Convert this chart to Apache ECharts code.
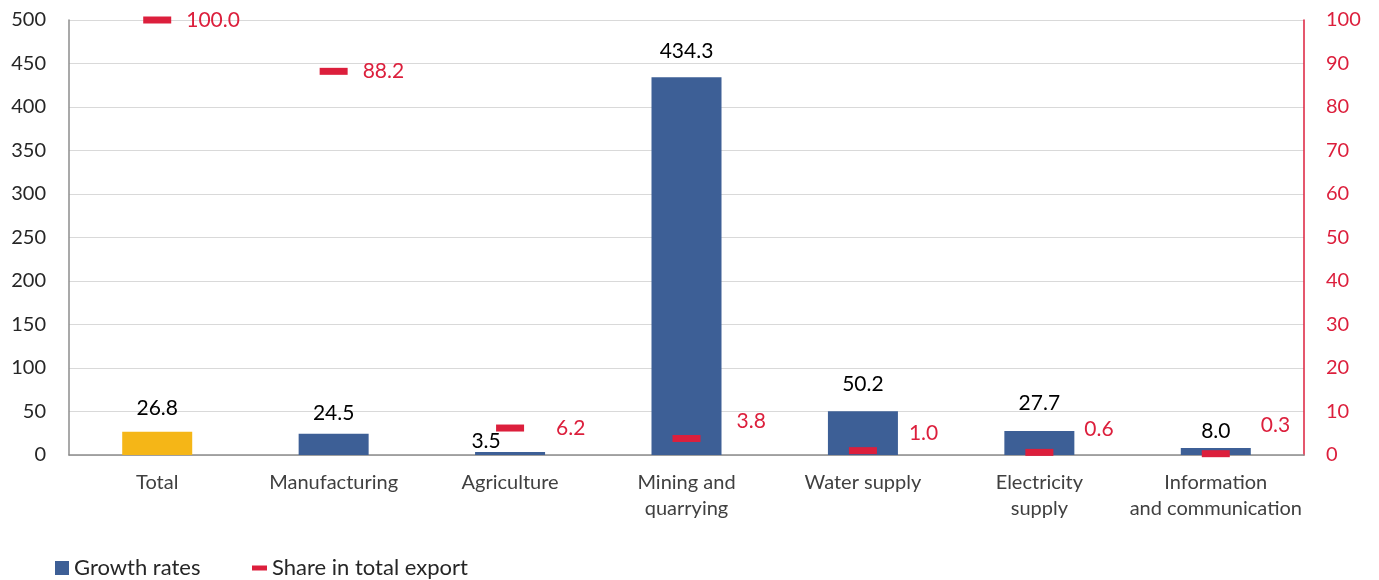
<!DOCTYPE html>
<html>
<head>
<meta charset="utf-8">
<script src="https://cdn.jsdelivr.net/npm/echarts@6/dist/echarts.min.js"></script>
<style>
  html, body { margin: 0; padding: 0; background: #fff; }
  #chart { width: 1379px; height: 580px; }
</style>
</head>
<body>
<div id="chart"></div>
<script>
// Export by sector: growth rates (%) and share in total export (%)
const categories = ['Total', 'Manufacturing', 'Agriculture', 'Mining and\nquarrying', 'Water supply', 'Electricity\nsupply', 'Information\nand communication'];
const growthRates = [26.8, 24.5, 3.5, 434.3, 50.2, 27.7, 8.0];
const shareInExport = [100.0, 88.2, 6.2, 3.8, 1.0, 0.6, 0.3];
const leftTicks = { min: 0, max: 500, interval: 50 };
const rightTicks = { min: 0, max: 100, interval: 10 };

// label nudges [dx, dy] so the value labels clear each other
const growthLabelNudge = [[0, 0], [0, 3], [-24, 13], [0, -2], [0, -4], [0, -4], [0, 7]];
const shareLabelNudge = [[0, 0], [0, 0], [17, 0], [21, -17], [17, -17], [16, -23], [16, -28]];

const BLUE = '#3D5F96';
const YELLOW = '#F5B617';
const RED = '#DC1F3C';
const FONT = 'Lato';

const chart = echarts.init(document.getElementById('chart'));
chart.setOption({
  animation: false,
  textStyle: { fontFamily: FONT },
  grid: { left: 69, right: 75, top: 20, bottom: 125, containLabel: false },
  legend: [
    {
      data: ['Growth rates'], left: 50, top: 552, itemWidth: 14, itemHeight: 14, itemGap: 0,
      icon: 'rect', textStyle: { fontFamily: FONT, fontSize: 22, color: '#262626' }
    },
    {
      data: ['Share in total export'], left: 247, top: 552, itemWidth: 15, itemHeight: 5, itemGap: 0,
      icon: 'rect', textStyle: { fontFamily: FONT, fontSize: 22, color: '#262626' }
    }
  ],
  xAxis: {
    type: 'category',
    data: categories,
    axisLine: { lineStyle: { color: '#8c8c8c', width: 1.5 } },
    axisTick: { show: false },
    axisLabel: { color: '#404040', fontSize: 20, lineHeight: 26, margin: 15, interval: 0 }
  },
  yAxis: [
    {
      type: 'value', min: leftTicks.min, max: leftTicks.max, interval: leftTicks.interval,
      axisLine: { show: true, lineStyle: { color: '#8c8c8c', width: 1.5 } },
      axisTick: { show: false },
      splitLine: { lineStyle: { color: '#d9d9d9', width: 1.2 } },
      axisLabel: { color: '#262626', fontSize: 20, margin: 23 }
    },
    {
      type: 'value', min: rightTicks.min, max: rightTicks.max, interval: rightTicks.interval,
      position: 'right',
      axisLine: { show: true, lineStyle: { color: RED, width: 1.5 } },
      axisTick: { show: false },
      splitLine: { show: false },
      axisLabel: { color: RED, fontSize: 20, margin: 22 }
    }
  ],
  series: [
    {
      name: 'Growth rates',
      type: 'bar',
      barWidth: 70,
      yAxisIndex: 0,
      itemStyle: { color: BLUE },
      data: growthRates.map((v, i) => ({
        value: v,
        itemStyle: i === 0 ? { color: YELLOW } : undefined,
        label: { offset: growthLabelNudge[i] }
      })),
      label: {
        show: true, position: 'top', distance: 13,
        color: '#000', fontSize: 21,
        formatter: p => p.value.toFixed(1)
      },
      z: 2
    },
    {
      name: 'Share in total export',
      type: 'scatter',
      yAxisIndex: 1,
      symbol: 'rect',
      symbolSize: [28, 7],
      itemStyle: { color: RED, opacity: 1 },
      data: shareInExport.map((v, i) => ({
        value: v,
        label: { offset: shareLabelNudge[i] }
      })),
      label: {
        show: true, position: 'right', distance: 15,
        color: RED, fontSize: 21,
        formatter: p => p.value.toFixed(1)
      },
      z: 3
    }
  ]
});
</script>
</body>
</html>
